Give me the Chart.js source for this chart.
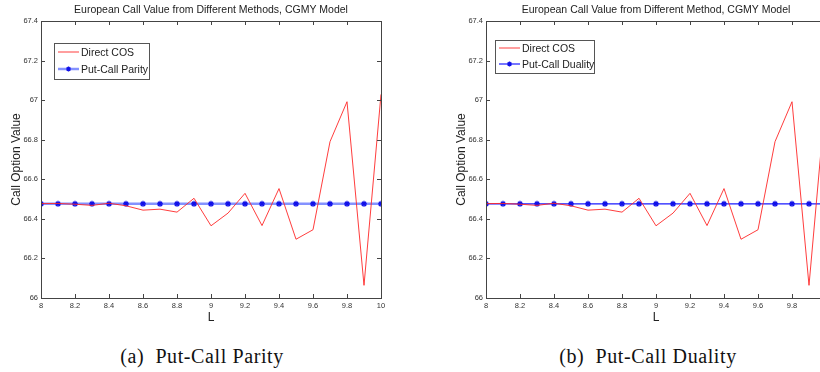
<!DOCTYPE html>
<html>
<head>
<meta charset="utf-8">
<script src="https://cdn.jsdelivr.net/npm/chart.js@4.4.0/dist/chart.umd.min.js"></script>
<style>
  body { margin: 0; width: 820px; height: 372px; overflow: hidden; background: #fff; position: relative; }
  .box { position: absolute; top: 0; width: 400px; height: 330px; }
  .cap { position: absolute; top: 345px; font-family: "Liberation Serif", serif; font-size: 20px; color: #111;
         letter-spacing: 0.6px; transform: translateX(-50%); white-space: nowrap; line-height: 23px; }
</style>
</head>
<body>
<div class="box" style="left:0"><canvas id="c1" width="400" height="330"></canvas></div>
<div class="box" style="left:445px"><canvas id="c2" width="400" height="330"></canvas></div>
<div class="cap" style="left:202px">(a)&nbsp; Put-Call Parity</div>
<div class="cap" style="left:648px">(b)&nbsp; Put-Call Duality</div>
<script>
// L values (truncation range parameter)
const L = [8, 8.1, 8.2, 8.3, 8.4, 8.5, 8.6, 8.7, 8.8, 8.9, 9, 9.1, 9.2, 9.3, 9.4, 9.5, 9.6, 9.7, 9.8, 9.9, 10];
// call values from direct COS
const directCOS = [66.477, 66.478, 66.474, 66.468, 66.479, 66.466, 66.444, 66.449, 66.434, 66.504, 66.365,
                   66.429, 66.529, 66.366, 66.553, 66.297, 66.345, 66.790, 66.992, 66.064, 67.029];
// call values via put-call parity / duality
const parity = [66.476, 66.476, 66.476, 66.476, 66.476, 66.476, 66.476, 66.476, 66.476, 66.476, 66.476,
                66.476, 66.476, 66.476, 66.476, 66.476, 66.476, 66.476, 66.476, 66.476, 66.476];
const duality = [66.476, 66.476, 66.476, 66.476, 66.476, 66.476, 66.476, 66.476, 66.476, 66.476, 66.476,
                 66.476, 66.476, 66.476, 66.476, 66.476, 66.476, 66.476, 66.476, 66.476, 66.476];

const titles = ['European Call Value from Different Methods, CGMY Model',
                'European Call Value from Different Method, CGMY Model'];
const labels2 = ['Put-Call Parity', 'Put-Call Duality'];

const pts = vals => L.map((x, i) => ({ x: x, y: vals[i] }));

// frame with inward ticks, title and legend box, matlab style
const matlabFrame = {
  id: 'matlabFrame',
  afterDraw(chart, args, opts) {
    const { ctx, chartArea: a, scales: { x, y } } = chart;
    ctx.save();
    ctx.strokeStyle = '#444';
    ctx.lineWidth = 1;
    ctx.strokeRect(Math.round(a.left) + 0.5, Math.round(a.top) + 0.5, Math.round(a.width), Math.round(a.height));
    ctx.beginPath();
    x.ticks.forEach(t => {
      const px = Math.round(x.getPixelForValue(t.value)) + 0.5;
      ctx.moveTo(px, a.bottom); ctx.lineTo(px, a.bottom - 4);
      ctx.moveTo(px, a.top); ctx.lineTo(px, a.top + 4);
    });
    y.ticks.forEach(t => {
      const py = Math.round(y.getPixelForValue(t.value)) + 0.5;
      ctx.moveTo(a.left, py); ctx.lineTo(a.left + 4, py);
      ctx.moveTo(a.right, py); ctx.lineTo(a.right - 4, py);
    });
    ctx.stroke();

    // title
    ctx.fillStyle = '#222';
    ctx.font = '10.5px "Liberation Sans", Arial, sans-serif';
    ctx.textAlign = 'center';
    ctx.textBaseline = 'middle';
    ctx.fillText(opts.title, (a.left + a.right) / 2, a.top - 11);

    // legend
    const lx = a.left + opts.dx, ly = a.top + opts.dy;
    ctx.fillStyle = '#fff';
    ctx.fillRect(lx, ly, opts.w, opts.h);
    ctx.strokeStyle = '#555';
    ctx.lineWidth = 1;
    ctx.strokeRect(lx + 0.5, ly + 0.5, opts.w, opts.h);
    ctx.font = '10.5px "Liberation Sans", Arial, sans-serif';
    ctx.textAlign = 'left';
    chart.data.datasets.forEach((ds, i) => {
      const ry = ly + opts.row0 + i * opts.rowH;
      ctx.strokeStyle = ds.borderColor;
      ctx.lineWidth = ds.borderWidth;
      ctx.beginPath();
      ctx.moveTo(lx + 4, ry); ctx.lineTo(lx + 25, ry);
      ctx.stroke();
      if (ds.pointRadius > 0) {
        const cx = lx + 14.5, r = 2.5;
        ctx.strokeStyle = ds.pointBorderColor;
        ctx.lineWidth = 1.2;
        ctx.beginPath();
        ctx.moveTo(cx - r, ry); ctx.lineTo(cx + r, ry);
        ctx.moveTo(cx, ry - r); ctx.lineTo(cx, ry + r);
        ctx.moveTo(cx - r * 0.7, ry - r * 0.7); ctx.lineTo(cx + r * 0.7, ry + r * 0.7);
        ctx.moveTo(cx - r * 0.7, ry + r * 0.7); ctx.lineTo(cx + r * 0.7, ry - r * 0.7);
        ctx.stroke();
      }
      ctx.fillStyle = '#222';
      ctx.fillText(ds.label, lx + 27, ry + 1);
    });
    ctx.restore();
  }
};

function makeChart(id, idx, blueVals, blueColor, blueWidth, leg) {
  const tickFont = { family: '"Liberation Sans", Arial, sans-serif', size: 7.5 };
  return new Chart(document.getElementById(id).getContext('2d'), {
    type: 'line',
    data: {
      datasets: [
        {
          label: 'Direct COS',
          data: pts(directCOS),
          borderColor: 'rgba(255, 40, 40, 0.9)',
          borderWidth: 1,
          pointRadius: 0,
          tension: 0
        },
        {
          label: labels2[idx],
          data: pts(blueVals),
          borderColor: blueColor,
          borderWidth: blueWidth,
          pointStyle: 'star',
          pointRadius: 3,
          pointBorderColor: '#1010e8',
          pointBorderWidth: 1.3,
          tension: 0
        }
      ]
    },
    options: {
      responsive: false,
      animation: false,
      layout: { padding: { top: 21, right: 19, left: 0, bottom: 0 } },
      scales: {
        x: {
          type: 'linear',
          min: 8,
          max: 10,
          afterFit: s => { s.height = 32; },
          grid: { display: false, drawTicks: false, tickLength: 0 },
          border: { display: false },
          ticks: {
            stepSize: 0.2,
            font: tickFont,
            color: '#333',
            padding: 3,
            maxRotation: 0,
            callback: v => String(+v.toFixed(1))
          },
          title: { display: true, text: 'L', color: '#222',
                   font: { family: '"Liberation Sans", Arial, sans-serif', size: 12 },
                   padding: { top: 0, bottom: 5 } }
        },
        y: {
          min: 66,
          max: 67.4,
          afterFit: s => { s.width = 41; },
          grid: { display: false, drawTicks: false, tickLength: 0 },
          border: { display: false },
          ticks: {
            stepSize: 0.2,
            font: tickFont,
            color: '#333',
            padding: 3,
            callback: v => String(+v.toFixed(1))
          },
          title: { display: true, text: 'Call Option Value', color: '#222',
                   font: { family: '"Liberation Sans", Arial, sans-serif', size: 12 },
                   padding: { top: 9, bottom: 0 } }
        }
      },
      plugins: {
        legend: { display: false },
        tooltip: { enabled: false },
        matlabFrame: Object.assign({ title: titles[idx] }, leg)
      }
    },
    plugins: [matlabFrame]
  });
}

makeChart('c1', 0, parity, 'rgba(80, 100, 255, 0.7)', 2.5, { dx: 13, dy: 22, w: 95, h: 36, row0: 9, rowH: 17 });
makeChart('c2', 1, duality, '#1a1aff', 1.2, { dx: 9, dy: 19, w: 99, h: 33, row0: 8, rowH: 16 });
</script>
</body>
</html>
